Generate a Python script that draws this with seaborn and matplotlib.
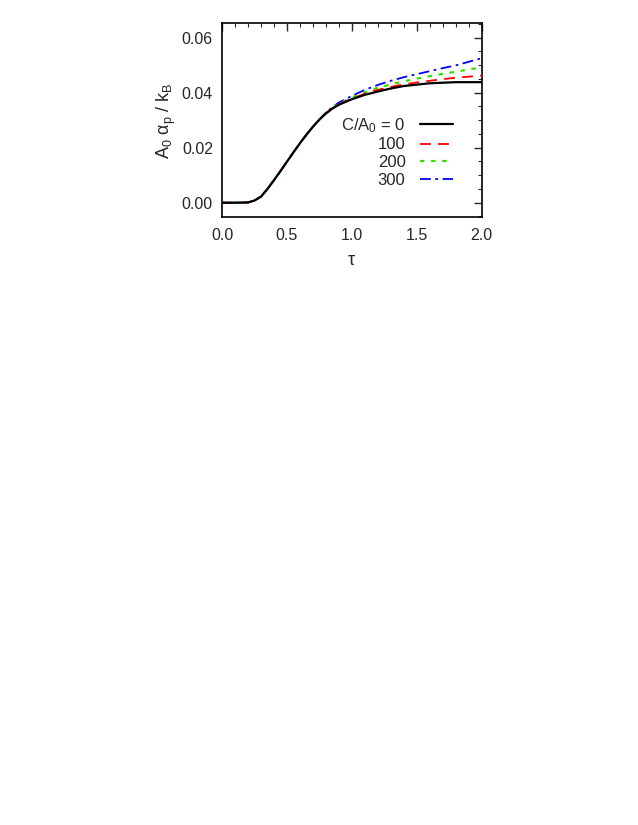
import matplotlib
matplotlib.use("Agg")
import matplotlib.pyplot as plt
import pandas as pd
import seaborn as sns
from matplotlib.ticker import MultipleLocator

# values
tau = [0.0, 0.1, 0.2, 0.25, 0.3, 0.35, 0.4, 0.45, 0.5, 0.55, 0.6, 0.65, 0.7,
       0.75, 0.8, 0.85, 0.9, 1.0, 1.1, 1.2, 1.3, 1.4, 1.5, 1.6, 1.7, 1.8, 1.9, 2.0]
rise = [0.0, 0.0, 0.0001, 0.0008, 0.0022, 0.0050, 0.0082, 0.0115, 0.0149,
        0.0183, 0.0216, 0.0247, 0.0276, 0.0302]
c0 = rise + [0.0324, 0.0342, 0.0356, 0.0376, 0.0392, 0.0404, 0.0415, 0.0424,
             0.0429, 0.0434, 0.0436, 0.0438, 0.0438, 0.0438]
c100 = rise + [0.0325, 0.0343, 0.0358, 0.0378, 0.0396, 0.0410, 0.0421, 0.0430,
               0.0437, 0.0443, 0.0449, 0.0454, 0.0458, 0.0462]
c200 = rise + [0.0326, 0.0345, 0.0360, 0.0382, 0.0401, 0.0418, 0.0430, 0.0441,
               0.0451, 0.0460, 0.0468, 0.0476, 0.0484, 0.0492]
c300 = rise + [0.0328, 0.0347, 0.0364, 0.0388, 0.0410, 0.0428, 0.0443, 0.0456,
               0.0467, 0.0478, 0.0489, 0.0499, 0.0512, 0.0525]
labels = [r"C/A$_0$ = 0", "100", "200", "300"]

sns.set_style("white")
plt.rcParams['font.family'] = ['Liberation Sans', 'DejaVu Sans']
plt.rcParams['mathtext.fontset'] = 'custom'
plt.rcParams['mathtext.rm'] = 'Liberation Sans'
plt.rcParams['mathtext.it'] = 'Liberation Sans'

fig = plt.figure(figsize=(6.38, 8.25), dpi=100)
ax = fig.add_axes([0.348, 0.7366, 0.407, 0.2352])

styles = [("black", "-", 1.6), ("#ff0000", (0, (6, 4)), 1.3),
          ("#33dd00", (0, (2, 3)), 1.6), ("#0000ff", (0, (6, 2.5, 1.5, 2.5)), 1.3)]
zs = [5, 4, 3, 2]
for vals, lab, (col, ls, lw), z in zip([c0, c100, c200, c300], labels, styles, zs):
    df = pd.DataFrame({"tau": tau, "val": vals})
    sns.lineplot(data=df, x="tau", y="val", ax=ax, color=col, linestyle=ls,
                 linewidth=lw, label=lab, zorder=z)

ax.set_xlim(0, 2.0)
ax.set_ylim(-0.0053, 0.0652)
ax.xaxis.set_major_locator(MultipleLocator(0.5))
ax.xaxis.set_minor_locator(MultipleLocator(0.1))
ax.yaxis.set_major_locator(MultipleLocator(0.02))
ax.yaxis.set_minor_locator(MultipleLocator(0.005))
ax.xaxis.set_major_formatter(plt.FormatStrFormatter('%.1f'))
ax.yaxis.set_major_formatter(plt.FormatStrFormatter('%.2f'))
ax.tick_params(which='both', direction='in', top=True, right=True, labelsize=11.5)
ax.tick_params(which='major', length=6, width=1)
ax.tick_params(which='minor', length=3, width=0.8)
ax.tick_params(axis='x', which='major', pad=8)
ax.tick_params(axis='y', which='major', pad=6.5)
for s in ax.spines.values():
    s.set_linewidth(1.2)
    s.set_color('black')

ax.set_xlabel(r"$\tau$", fontsize=13, labelpad=6)
ax.set_ylabel(r"A$_0$ $\alpha_\mathrm{p}$ / k$_\mathrm{B}$", fontsize=13, labelpad=2.5)

ax.legend(loc='upper right', bbox_to_anchor=(0.889, 0.522), frameon=False,
          markerfirst=False, fontsize=12, handlelength=2.0, labelspacing=0.16,
          borderpad=0, borderaxespad=0, handletextpad=0.84, alignment='right')
leg = ax.get_legend()
for t in leg.get_texts():
    t.set_ha('right')

fig.savefig("out.png", dpi=100)
